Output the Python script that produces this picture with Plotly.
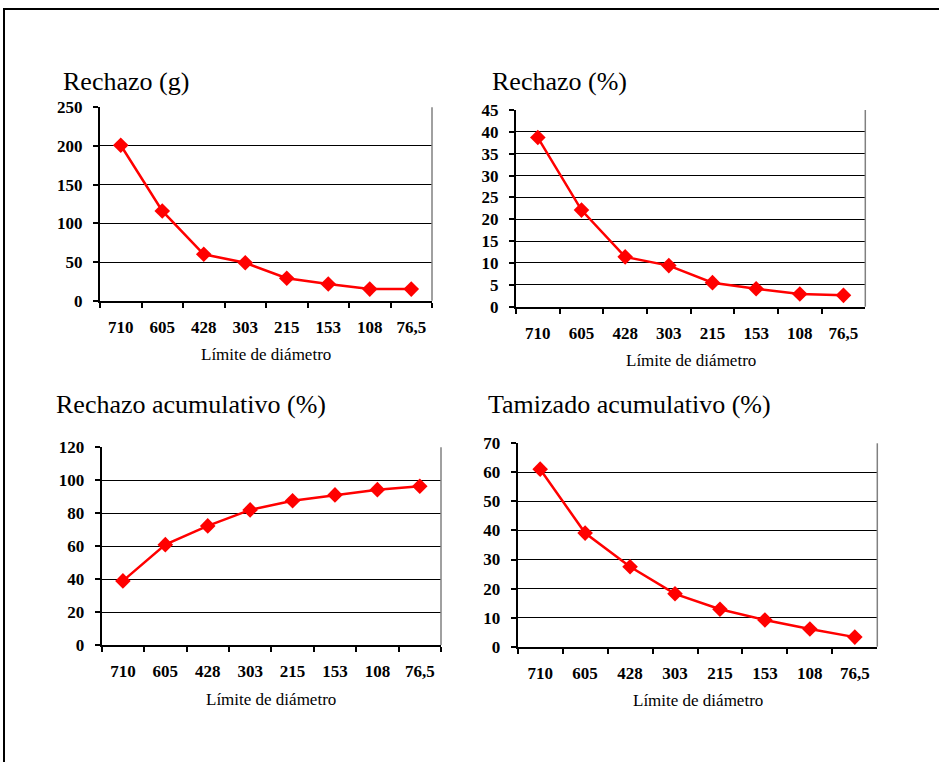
import plotly.graph_objects as go

W, H = 939, 762

# Diameter limits (categories) and measured series
diametros = ["710", "605", "428", "303", "215", "153", "108", "76,5"]
rechazo_g = [201, 116, 60, 49, 29, 21.5, 15, 15]
rechazo_pct = [38.7, 22.1, 11.4, 9.4, 5.5, 4.1, 2.9, 2.6]
rechazo_acum = [38.9, 60.9, 72.3, 82.0, 87.6, 91.1, 94.3, 96.4]
tamizado_acum = [61.1, 39.1, 27.5, 18.2, 12.9, 9.2, 6.1, 3.3]

titulos = ["Rechazo (g)", "Rechazo (%)", "Rechazo acumulativo (%)", "Tamizado acumulativo (%)"]
eje_x = "Límite de diámetro"
y_max = [250, 45, 120, 70]
y_paso = [50, 5, 20, 10]
series = [rechazo_g, rechazo_pct, rechazo_acum, tamizado_acum]

# Plot-area boxes in pixels: (left, top, right, bottom)
cajas = [
    (100, 107.3, 432, 300.7),
    (516, 110, 865.3, 306.7),
    (101.7, 447.3, 441, 645),
    (517.7, 443.3, 877.3, 646.7),
]
# Title anchor (left x, centre y) in pixels
pos_titulo = [(61, 81), (490, 82), (54, 404), (486, 404)]

FONT = "Liberation Serif, Times New Roman, serif"

fig = go.Figure()
layout = dict(
    width=W, height=H, autosize=False,
    margin=dict(l=0, r=0, t=0, b=0, pad=0),
    paper_bgcolor="white", plot_bgcolor="white",
    showlegend=False,
    font=dict(family=FONT, color="black"),
    annotations=[], shapes=[],
)

for i, (vals, caja) in enumerate(zip(series, cajas)):
    n = "" if i == 0 else str(i + 1)
    l, t, r, b = caja
    xd = [l / W, r / W]
    yd = [1 - b / H, 1 - t / H]
    fig.add_trace(go.Scatter(
        x=diametros, y=vals, mode="lines+markers",
        xaxis="x" + n, yaxis="y" + n,
        line=dict(color="#ff0000", width=2.5),
        marker=dict(symbol="diamond", size=12, color="#ff0000"),
        hoverinfo="skip",
    ))
    layout["xaxis" + n] = dict(
        domain=xd, anchor="y" + n, type="category", automargin=False,
        range=[-0.5, len(diametros) - 0.5],
        showgrid=False, zeroline=False,
        showline=True, linecolor="black", linewidth=2,
        ticks="outside", ticklen=5, tickcolor="black", tickwidth=1.5,
        tickson="boundaries",
        tickfont=dict(family=FONT, size=17, color="black", weight="bold"),
        ticklabelstandoff=10,
    )
    layout["yaxis" + n] = dict(
        domain=yd, anchor="x" + n, automargin=False,
        range=[0, y_max[i]], dtick=y_paso[i], tick0=0,
        showgrid=True, gridcolor="black", gridwidth=1,
        zeroline=False,
        showline=True, linecolor="black", linewidth=2,
        ticks="outside", ticklen=5, tickcolor="black", tickwidth=1.5,
        tickfont=dict(family=FONT, size=17, color="black", weight="bold"),
        ticklabelstandoff=7,
    )
    # right-hand border of the plot area
    layout["shapes"].append(dict(
        type="line", xref="x" + n + " domain", yref="y" + n + " domain",
        x0=1, x1=1, y0=0, y1=1, line=dict(color="#808080", width=1.5),
    ))
    tx, ty = pos_titulo[i]
    layout["annotations"].append(dict(
        text=titulos[i], xref="paper", yref="paper",
        x=tx / W, y=1 - ty / H, xanchor="left", yanchor="middle",
        showarrow=False, font=dict(family=FONT, size=26, color="black"),
    ))
    layout["annotations"].append(dict(
        text=eje_x, xref="paper", yref="paper",
        x=(l + r) / 2 / W, y=1 - (b + 54) / H, xanchor="center", yanchor="middle",
        showarrow=False, font=dict(family=FONT, size=17, color="black"),
    ))

# Outer frame around the whole figure
layout["shapes"].append(dict(
    type="rect", xref="paper", yref="paper",
    x0=4 / W, x1=1.2, y0=-0.2, y1=1 - 9 / H,
    line=dict(color="black", width=2), fillcolor="rgba(0,0,0,0)",
))

fig.update_layout(**layout)
fig.write_html("out.html", post_script="document.body.style.margin='0';")
